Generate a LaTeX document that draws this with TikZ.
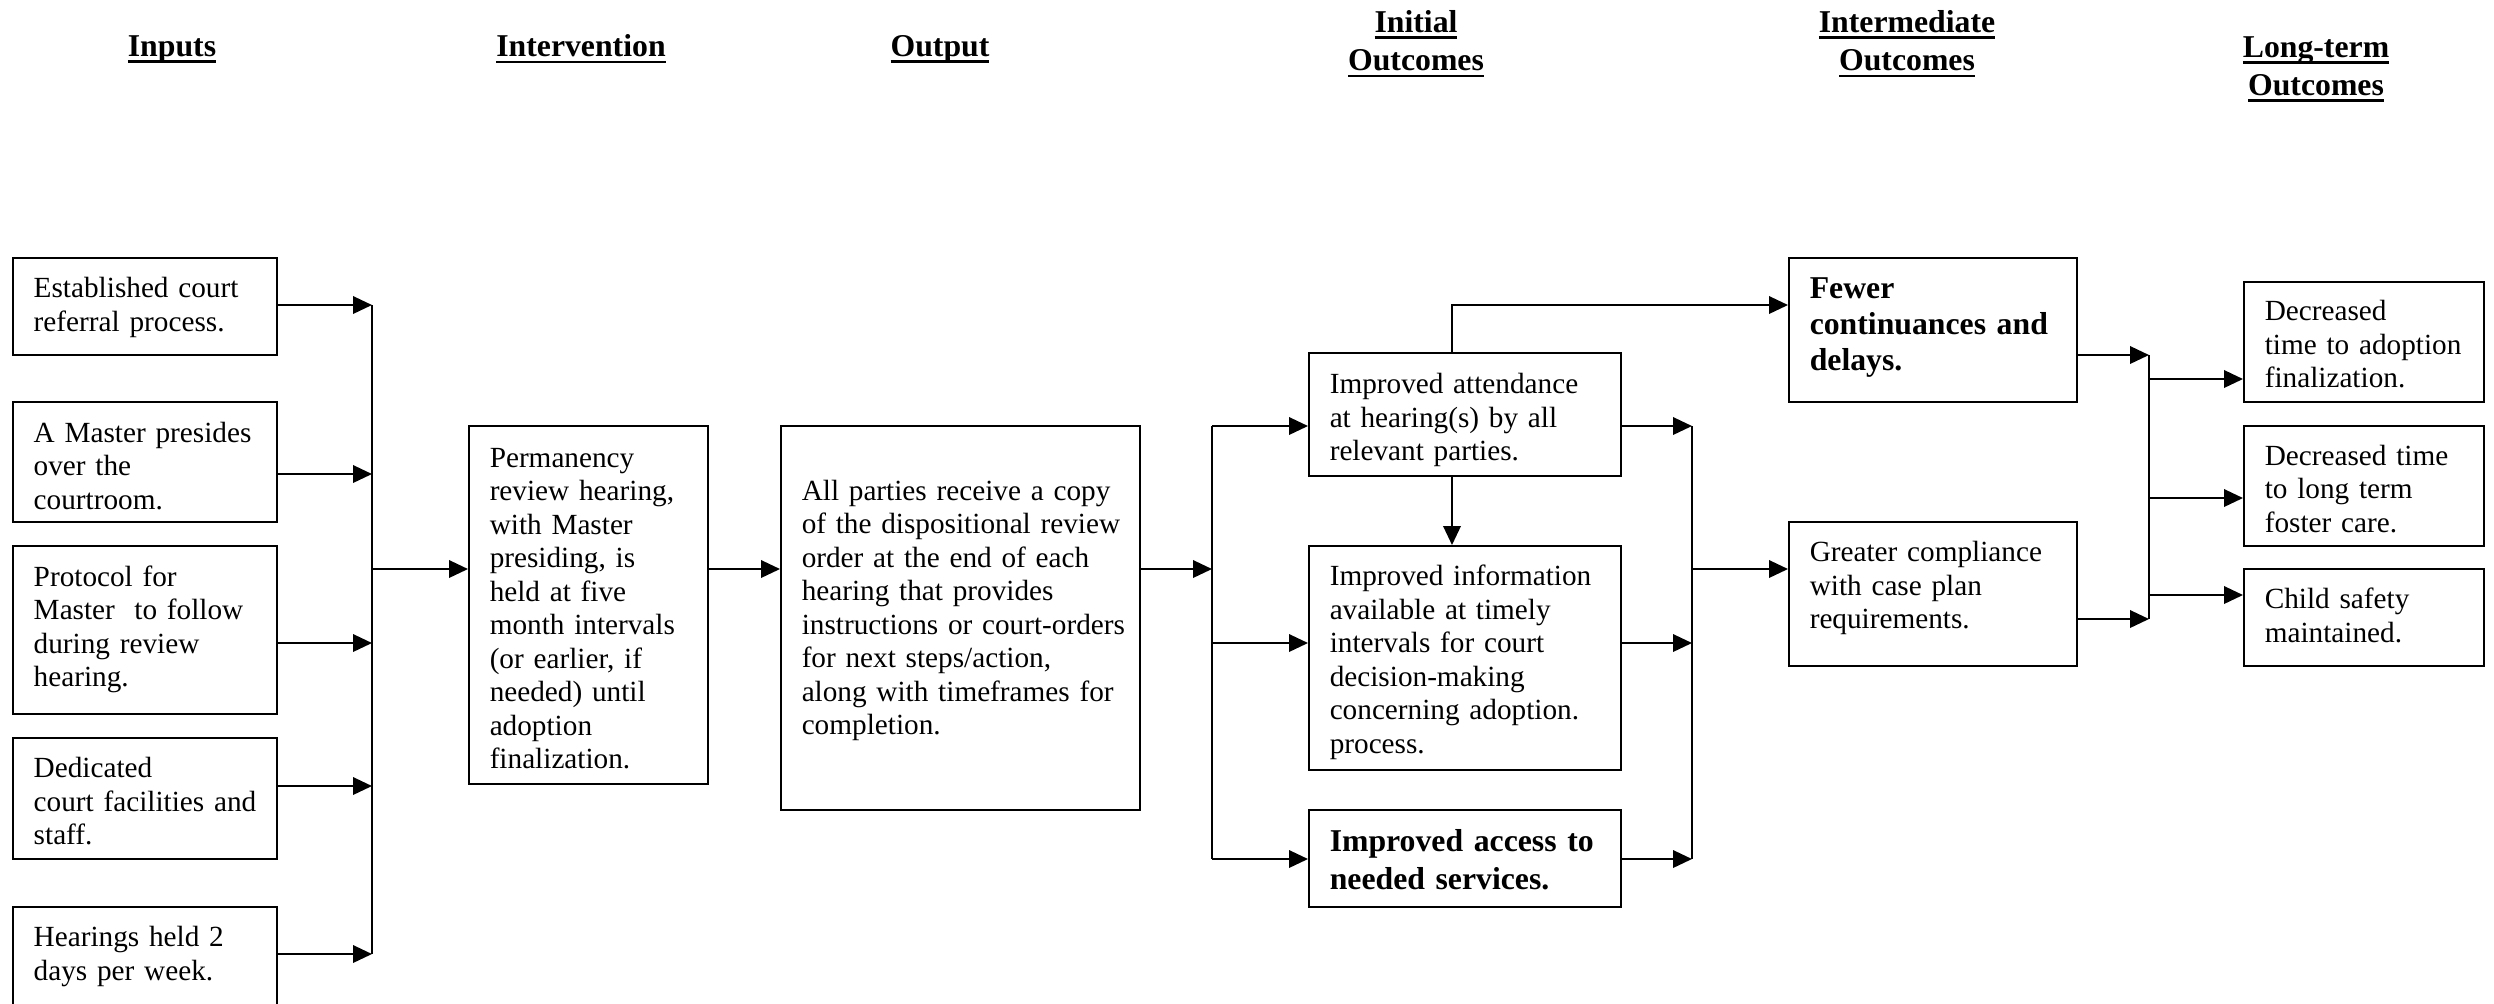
\documentclass[tikz,border=0pt]{standalone}
\usepackage{fontspec}
\setmainfont{Liberation Serif}
\usetikzlibrary{arrows.meta}
% one left-aligned block of fixed lines; optional argument moves it down (pt)
\newdimen\blshift
\newcommand\boxlines[2][0]{%
  \setbox0\hbox{\begin{tabular}{@{}l@{}}#2\end{tabular}}%
  \blshift=#1pt\relax
  \ifdim\blshift>0pt \ht0=\dimexpr\ht0+2\blshift\relax
  \else \dp0=\dimexpr\dp0-2\blshift\relax\fi
  \box0}
% heavy underline for column headings
\newcommand\hul[1]{\setbox0\hbox{#1}\rlap{\rule[-2.6pt]{\wd0}{1.1pt}}\box0}

\begin{document}
\begin{tikzpicture}[x=0.4pt,y=-0.4pt,
  every node/.style={inner sep=0pt},
  box/.style={draw, line width=0.8pt, inner xsep=8.3pt, inner ysep=0pt,
    align=left, font=\fontsize{11.7}{13.4}\selectfont},
  boldbox/.style={box, font=\fontsize{12.7}{15.2}\selectfont\bfseries},
  head/.style={align=center, font=\fontsize{12.7}{15.3}\selectfont\bfseries},
  link/.style={line width=0.8pt},
  arr/.style={link, -{Triangle[length=7.6pt,width=7pt]}},
]
\useasboundingbox (0,0) rectangle (2494,1003);

% column headings
\node[head] (hin)  at (172,49)  {\hul{Inputs}};
\node[head] (hiv)  at (581,49)  {\hul{Intervention}};
\node[head] (hout) at (940,49)  {\hul{Output}};
\node[head] (hini) at (1416,44) {\hul{Initial}\\\hul{Outcomes}};
\node[head] (hmid) at (1907,44) {\hul{Intermediate}\\\hul{Outcomes}};
\node[head] (hlt)  at (2316,69) {\hul{Long-term}\\\hul{Outcomes}};

% inputs
\node[box, minimum width=105.6pt, text width=89pt, minimum height=38.8pt] (in1) at (145,306.5)
  {\boxlines[0.6]{Established court\\referral process.}};
\node[box, minimum width=105.6pt, text width=89pt, minimum height=48pt] (in2) at (145,462)
  {\boxlines[2.9]{A Master presides\\over the\\courtroom.}};
\node[box, minimum width=105.6pt, text width=89pt, minimum height=67.2pt] (in3) at (145,630)
  {\boxlines{Protocol for\\Master\ \ to follow\\during review\\hearing.}};
\node[box, minimum width=105.6pt, text width=89pt, minimum height=48.4pt] (in4) at (145,798.5)
  {\boxlines[2.5]{Dedicated\\court facilities and\\staff.}};
\node[box, minimum width=105.6pt, text width=89pt, minimum height=41.2pt] (in5) at (145,958.5)
  {\boxlines[-0.6]{Hearings held 2\\days per week.}};

% intervention and output
\node[box, minimum width=95.6pt, text width=79pt, minimum height=143.2pt] (iv) at (588.5,605)
  {\boxlines[2.5]{Permanency\\review hearing,\\with Master\\presiding, is\\held at five\\month intervals\\(or earlier, if\\needed) until\\adoption\\finalization.}};
\node[box, minimum width=143.6pt, text width=127pt, minimum height=153.6pt] (out) at (960.5,618)
  {\boxlines[-2.9]{All parties receive a copy\\of the dispositional review\\order at the end of each\\hearing that provides\\instructions or court-orders\\for next steps/action,\\along with timeframes for\\completion.}};

% initial outcomes
\node[box, minimum width=124.8pt, text width=108.2pt, minimum height=49.2pt] (io1) at (1465,414.5)
  {\boxlines[2.5]{Improved attendance\\at hearing(s) by all\\relevant parties.}};
\node[box, minimum width=124.8pt, text width=108.2pt, minimum height=89.6pt] (io2) at (1465,658)
  {\boxlines[1.9]{Improved information\\available at timely\\intervals for court\\decision-making\\concerning adoption.\\process.}};
\node[boldbox, minimum width=124.8pt, text width=108.2pt, minimum height=38.8pt] (io3) at (1465,858.5)
  {\boxlines[1.9]{Improved access to\\needed services.}};

% intermediate outcomes
\node[boldbox, font=\fontsize{12.7}{14.3}\selectfont\bfseries, minimum width=115.2pt, text width=98.6pt, minimum height=57.6pt] (im1) at (1933,330)
  {\boxlines[-1]{Fewer\\continuances and\\delays.}};
\node[box, minimum width=115.2pt, text width=98.6pt, minimum height=57.6pt] (im2) at (1933,594)
  {\boxlines[-2.2]{Greater compliance\\with case plan\\requirements.}};

% long-term outcomes
\node[box, minimum width=96pt, text width=79.4pt, minimum height=48pt] (lt1) at (2364,342)
  {\boxlines[2.2]{Decreased\\time to adoption\\finalization.}};
\node[box, minimum width=96pt, text width=79.4pt, minimum height=48pt] (lt2) at (2364,486)
  {\boxlines[2.5]{Decreased time\\to long term\\foster care.}};
\node[box, minimum width=96pt, text width=79.4pt, minimum height=38.8pt] (lt3) at (2364,617.5)
  {\boxlines[0.6]{Child safety\\maintained.}};

% junction points
\coordinate (a1) at (372,305);
\coordinate (a2) at (372,474);
\coordinate (a3) at (372,643);
\coordinate (a4) at (372,786);
\coordinate (a5) at (372,954);
\coordinate (aout) at (372,569);
\coordinate (b1) at (1212,426);
\coordinate (b2) at (1212,643);
\coordinate (b3) at (1212,859);
\coordinate (bin) at (1212,569);
\coordinate (c1) at (1692,426);
\coordinate (c2) at (1692,643);
\coordinate (c3) at (1692,859);
\coordinate (cout) at (1692,569);
\coordinate (up) at (1452,305);
\coordinate (d1) at (2149,355);
\coordinate (d2) at (2149,619);
\coordinate (e1) at (2149,379);
\coordinate (e2) at (2149,498);
\coordinate (e3) at (2149,595);

% inputs into the intervention
\draw[link] (a1) -- (a5);
\foreach \n/\p in {in1/a1, in2/a2, in3/a3, in4/a4, in5/a5}
  \draw[arr] (\n.east |- \p) -- (\p);
\draw[arr] (aout) -- (iv.west |- aout);

% intervention to output
\draw[arr] (iv.east |- aout) -- (out.west |- aout);

% output into the initial outcomes
\draw[arr] (out.east |- bin) -- (bin);
\draw[link] (b1) -- (b3);
\draw[arr] (b1) -- (io1.west |- b1);
\draw[arr] (b2) -- (io2.west |- b2);
\draw[arr] (b3) -- (io3.west |- b3);

% attendance feeds information and continuances
\draw[arr] (io1.south -| up) -- (io2.north -| up);
\draw[arr] (io1.north -| up) -- (up) -- (im1.west |- up);

% initial outcomes into compliance
\draw[arr] (io1.east |- c1) -- (c1);
\draw[arr] (io2.east |- c2) -- (c2);
\draw[arr] (io3.east |- c3) -- (c3);
\draw[link] (c1) -- (c3);
\draw[arr] (cout) -- (im2.west |- cout);

% intermediate into long-term outcomes
\draw[arr] (im1.east |- d1) -- (d1);
\draw[arr] (im2.east |- d2) -- (d2);
\draw[link] (d1) -- (d2);
\draw[arr] (e1) -- (lt1.west |- e1);
\draw[arr] (e2) -- (lt2.west |- e2);
\draw[arr] (e3) -- (lt3.west |- e3);
\end{tikzpicture}
\end{document}
